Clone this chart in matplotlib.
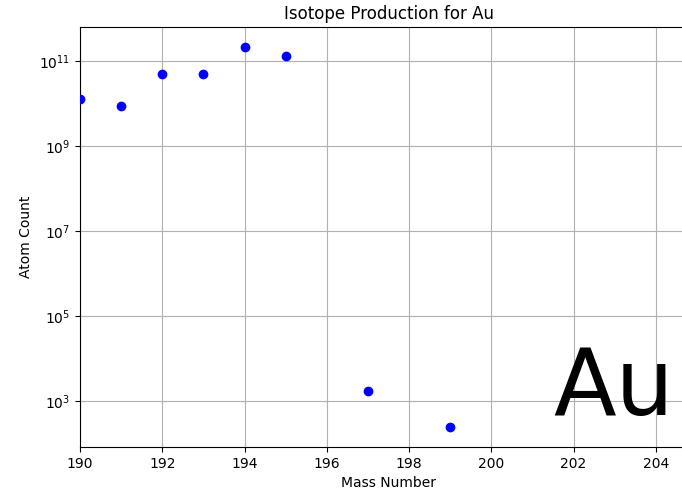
import matplotlib
matplotlib.use("Agg")
import matplotlib.pyplot as plt

mass_numbers = [190, 191, 192, 193, 194, 195, 197, 199]
atom_counts = [1.28e10, 8.7e9, 4.9e10, 4.9e10, 2.1e11, 1.3e11, 1.7e3, 2.4e2]
element = "Au"

W, H = 682, 493
fig = plt.figure(figsize=(W / 100, H / 100), dpi=100)
ax = fig.add_axes([80 / W, (H - 447) / H, (697 - 80) / W, 420 / H])
ax.scatter(mass_numbers, atom_counts, color="blue", zorder=3)
ax.set_yscale("log")
ax.set_xlim(190, 205)
ax.set_ylim(10 ** 1.918, 10 ** 11.8)
ax.set_xticks([190, 192, 194, 196, 198, 200, 202, 204])
ax.set_yticks([1e3, 1e5, 1e7, 1e9, 1e11])
ax.minorticks_off()
ax.grid(True)
ax.set_title(f"Isotope Production for {element}")
ax.set_xlabel("Mass Number")
ax.set_ylabel("Atom Count")
fig.text(553 / W, (H - 415) / H, element, fontsize=66, ha="left", va="baseline")
fig.savefig("out.png", dpi=100)
